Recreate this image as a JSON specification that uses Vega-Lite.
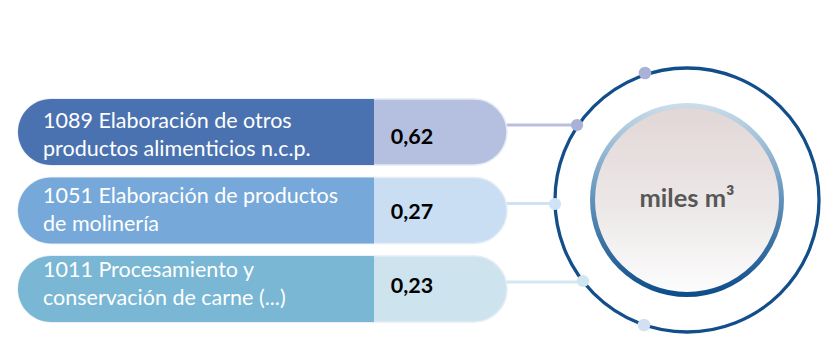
{
  "$schema": "https://vega.github.io/schema/vega-lite/v6.json",
  "width": 827,
  "height": 340,
  "padding": 0,
  "autosize": "none",
  "background": "white",
  "config": {
    "view": {"stroke": null},
    "axis": {"disable": true},
    "legend": {"disable": true},
    "locale": {"number": {"decimal": ",", "thousands": ".", "grouping": [3], "currency": ["", " €"]}}
  },
  "data": {
    "values": [
      {"code": "1089", "label": ["1089 Elaboración de otros", "productos alimenticios n.c.p."], "value": 0.62},
      {"code": "1051", "label": ["1051 Elaboración de productos", "de molinería"], "value": 0.27},
      {"code": "1011", "label": ["1011 Procesamiento y", "conservación de carne (...)"], "value": 0.23}
    ]
  },
  "resolve": {"scale": {"y": "independent", "color": "independent"}},
  "layer": [
    {
      "mark": {"type": "rule", "strokeWidth": 3, "yOffset": -7},
      "encoding": {
        "x": {"datum": 500, "type": "quantitative", "scale": {"domain": [0, 827]}},
        "x2": {"datum": 650},
        "y": {"field": "code", "type": "nominal", "sort": null, "scale": {"domain": ["1089", "1051", "1011"], "range": [99, 322], "paddingInner": 0.159, "paddingOuter": 0}},
        "color": {"field": "code", "type": "nominal", "scale": {"domain": ["1089", "1051", "1011"], "range": ["#b7c0de", "#cfe2f3", "#d2e7f0"]}}
      }
    },
    {
      "mark": {"type": "bar", "cornerRadius": 33, "stroke": "#e4ecf5", "strokeWidth": 1.5},
      "encoding": {
        "x": {"datum": 18, "type": "quantitative", "scale": {"domain": [0, 827]}},
        "x2": {"datum": 507},
        "y": {"field": "code", "type": "nominal", "sort": null, "scale": {"domain": ["1089", "1051", "1011"], "range": [99, 322], "paddingInner": 0.159, "paddingOuter": 0}},
        "color": {"field": "code", "type": "nominal", "scale": {"domain": ["1089", "1051", "1011"], "range": ["#b5bfdf", "#c9def2", "#cde4ee"]}}
      }
    },
    {
      "mark": {"type": "bar", "cornerRadiusTopLeft": 33, "cornerRadiusBottomLeft": 33},
      "encoding": {
        "x": {"datum": 18, "type": "quantitative", "scale": {"domain": [0, 827]}},
        "x2": {"datum": 374},
        "y": {"field": "code", "type": "nominal", "sort": null, "scale": {"domain": ["1089", "1051", "1011"], "range": [99, 322], "paddingInner": 0.159, "paddingOuter": 0}},
        "color": {"field": "code", "type": "nominal", "scale": {"domain": ["1089", "1051", "1011"], "range": ["#4a72b0", "#76a9d9", "#79b7d4"]}}
      }
    },
    {
      "mark": {"type": "text", "align": "left", "baseline": "alphabetic", "font": "Lato", "fontSize": 21.5, "lineHeight": 28, "color": "white", "dy": -8},
      "encoding": {
        "x": {"datum": 43, "type": "quantitative", "scale": {"domain": [0, 827]}},
        "y": {"field": "code", "type": "nominal", "sort": null, "scale": {"domain": ["1089", "1051", "1011"], "range": [99, 322], "paddingInner": 0.159, "paddingOuter": 0}},
        "text": {"field": "label"}
      }
    },
    {
      "mark": {"type": "text", "align": "center", "baseline": "alphabetic", "font": "Lato", "fontWeight": "bold", "fontSize": 21.5, "color": "black", "dy": 8},
      "encoding": {
        "x": {"datum": 412, "type": "quantitative", "scale": {"domain": [0, 827]}},
        "y": {"field": "code", "type": "nominal", "sort": null, "scale": {"domain": ["1089", "1051", "1011"], "range": [99, 322], "paddingInner": 0.159, "paddingOuter": 0}},
        "text": {"field": "value", "type": "quantitative", "format": ".2f"}
      }
    },
    {
      "data": {"values": [{}]},
      "layer": [
        {
          "mark": {"type": "point", "shape": "circle", "filled": true, "size": 68000, "color": "white", "opacity": 1},
          "encoding": {
            "x": {"datum": 687, "type": "quantitative", "scale": {"domain": [0, 827]}},
            "y": {"datum": 200, "type": "quantitative", "scale": {"domain": [0, 340], "reverse": true}}
          }
        },
        {
          "mark": {"type": "point", "shape": "circle", "filled": false, "size": 69700, "stroke": "#114e8a", "strokeWidth": 3.3, "opacity": 1},
          "encoding": {
            "x": {"datum": 687, "type": "quantitative", "scale": {"domain": [0, 827]}},
            "y": {"datum": 200, "type": "quantitative", "scale": {"domain": [0, 340], "reverse": true}}
          }
        },
        {
          "mark": {
            "type": "point", "shape": "circle", "filled": true, "size": 35700, "opacity": 1, "strokeWidth": 5,
            "fill": {"gradient": "linear", "x1": 0, "y1": 0, "x2": 0, "y2": 1, "stops": [{"offset": 0, "color": "#e2d6d6"}, {"offset": 0.6, "color": "#eeeaea"}, {"offset": 1, "color": "#fdfdfd"}]},
            "stroke": {"gradient": "linear", "x1": 0, "y1": 0, "x2": 0, "y2": 1, "stops": [{"offset": 0, "color": "#c9dcea"}, {"offset": 0.45, "color": "#6a99c0"}, {"offset": 1, "color": "#0e4d8a"}]}
          },
          "encoding": {
            "x": {"datum": 687, "type": "quantitative", "scale": {"domain": [0, 827]}},
            "y": {"datum": 200, "type": "quantitative", "scale": {"domain": [0, 340], "reverse": true}}
          }
        },
        {
          "mark": {"type": "point", "shape": "circle", "filled": true, "size": 160, "color": "#a9b1d6", "opacity": 1},
          "encoding": {
            "x": {"datum": 645, "type": "quantitative", "scale": {"domain": [0, 827]}},
            "y": {"datum": 73, "type": "quantitative", "scale": {"domain": [0, 340], "reverse": true}}
          }
        },
        {
          "mark": {"type": "point", "shape": "circle", "filled": true, "size": 150, "color": "#a9b1d6", "opacity": 1},
          "encoding": {
            "x": {"datum": 577, "type": "quantitative", "scale": {"domain": [0, 827]}},
            "y": {"datum": 125, "type": "quantitative", "scale": {"domain": [0, 340], "reverse": true}}
          }
        },
        {
          "mark": {"type": "point", "shape": "circle", "filled": true, "size": 150, "color": "#d0e3f4", "opacity": 1},
          "encoding": {
            "x": {"datum": 555, "type": "quantitative", "scale": {"domain": [0, 827]}},
            "y": {"datum": 204, "type": "quantitative", "scale": {"domain": [0, 340], "reverse": true}}
          }
        },
        {
          "mark": {"type": "point", "shape": "circle", "filled": true, "size": 150, "color": "#cfe6f0", "opacity": 1},
          "encoding": {
            "x": {"datum": 583, "type": "quantitative", "scale": {"domain": [0, 827]}},
            "y": {"datum": 281, "type": "quantitative", "scale": {"domain": [0, 340], "reverse": true}}
          }
        },
        {
          "mark": {"type": "point", "shape": "circle", "filled": true, "size": 160, "color": "#d2e0f1", "opacity": 1},
          "encoding": {
            "x": {"datum": 644, "type": "quantitative", "scale": {"domain": [0, 827]}},
            "y": {"datum": 325, "type": "quantitative", "scale": {"domain": [0, 340], "reverse": true}}
          }
        },
        {
          "mark": {"type": "text", "align": "center", "baseline": "alphabetic", "font": "Lato", "fontWeight": "bold", "fontSize": 25.5, "color": "#575757", "text": "miles m³"},
          "encoding": {
            "x": {"datum": 687, "type": "quantitative", "scale": {"domain": [0, 827]}},
            "y": {"datum": 207, "type": "quantitative", "scale": {"domain": [0, 340], "reverse": true}}
          }
        }
      ]
    }
  ]
}
